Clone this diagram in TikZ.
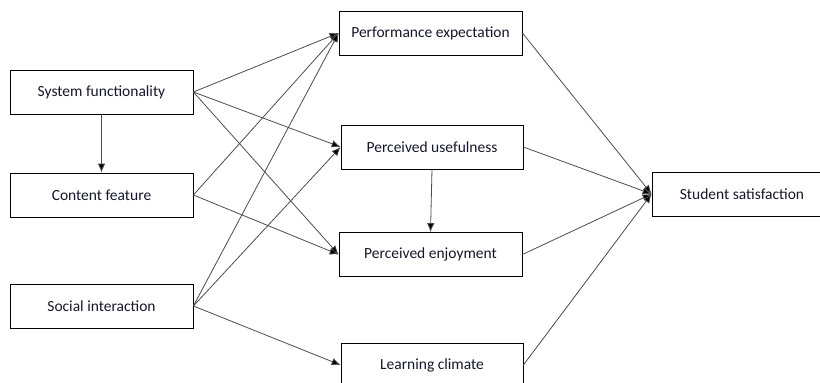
\documentclass[tikz,border=0pt]{standalone}
\usepackage{fontspec}
\setmainfont{Carlito}
\usetikzlibrary{arrows.meta}

\definecolor{inkblue}{RGB}{22,22,42}

\tikzset{
    box/.style={draw, thick, minimum height=44pt, inner sep=0pt, text=inkblue, font=\fontsize{15.5}{18}\selectfont},
    link/.style={-{Latex[length=9pt, width=7.5pt, fill=black]}, draw=black!70, line width=0.8pt}
}

\begin{document}
\begin{tikzpicture}[x=1pt, y=-1pt]
    % page is 820 x 383, y goes down
    \useasboundingbox (0,0) rectangle (820,383);

    % left column
    \node [box, minimum width=183pt] (SF) at (101.5, 92) {System functionality};
    \node [box, minimum width=183pt] (CF) at (101.5, 195) {Content feature};
    \node [box, minimum width=183pt] (SI) at (101.5, 306) {Social interaction};

    % middle column
    \node [box, minimum width=183pt] (PE) at (430.5, 33) {Performance expectation};
    \node [box, minimum width=182pt] (PU) at (432, 147) {Perceived usefulness};
    \node [box, minimum width=183pt] (PJ) at (430.5, 254.5) {Perceived enjoyment};
    \node [box, minimum width=182pt] (LC) at (432, 365) {Learning climate};

    % right, runs off the page a bit
    \node [box, minimum width=180pt] (SS) at (742, 194) {Student satisfaction};

    % from system functionality
    \draw [link] (SF.east) -- (PE.west);
    \draw [link] (SF.east) -- (PU.west);
    \draw [link] (SF.east) -- (PJ.west);
    \draw [link] (SF.south) -- (CF.north);

    % from content feature
    \draw [link] (CF.east) -- (PE.west);
    \draw [link] (CF.east) -- (PJ.west);

    % from social interaction
    \draw [link] (SI.east) -- (PE.west);
    \draw [link] (SI.east) -- (PU.west);
    \draw [link] (SI.east) -- (LC.west);

    \draw [link] (PU.south) -- (PJ.north);

    % everything ends up in satisfaction
    \draw [link] (PE.east) -- (SS.west);
    \draw [link] (PU.east) -- (SS.west);
    \draw [link] (PJ.east) -- (SS.west);
    \draw [link] (LC.east) -- (SS.west);
\end{tikzpicture}
\end{document}
